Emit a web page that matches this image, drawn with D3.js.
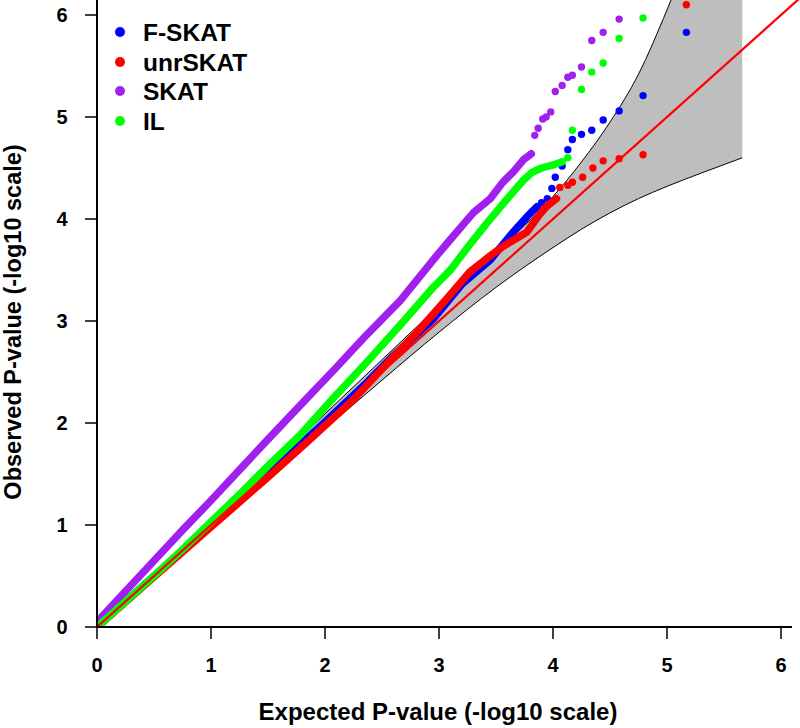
<!DOCTYPE html>
<html>
<head>
<meta charset="utf-8">
<script src="https://cdn.jsdelivr.net/npm/d3@7"></script>
<style>
  body { margin: 0; background: #fff; }
  svg { display: block; font-family: 'Liberation Sans', Arial, sans-serif; font-weight: bold; }
</style>
</head>
<body>
<svg id="qq" width="800" height="728"></svg>
<script>
// tick values
const xTicks = [0, 1, 2, 3, 4, 5, 6];
const yTicks = [0, 1, 2, 3, 4, 5, 6];

// legend
const seriesNames = ['F-SKAT', 'unrSKAT', 'SKAT', 'IL'];
const seriesColors = ['#0000ff', '#ff0000', '#a020f0', '#00ff00'];

// confidence band, [expected] -> lower / upper observed
const bandExp = [0, 0.5, 1, 1.5, 2, 2.5, 3, 3.5, 4, 4.25, 4.5, 4.75, 5, 5.3, 5.66];
const bandLower = [0, 0.48, 0.97, 1.45, 1.94, 2.42, 2.89, 3.33, 3.72, 3.9, 4.06, 4.2, 4.32, 4.45, 4.6];
const bandUpper = [0, 0.52, 1.03, 1.56, 2.09, 2.62, 3.15, 3.68, 4.22, 4.56, 4.95, 5.42, 6.05, 6.9, 7.6];

// dense part of each series [expected, observed]
const fskatTrace = [[0, 0], [0.5, 0.5], [1, 1], [1.5, 1.5], [2, 2.01], [2.37, 2.4], [2.6, 2.66], [2.95, 3.02],
  [3.2, 3.36], [3.45, 3.6], [3.65, 3.87], [3.77, 4.02], [3.86, 4.12]];
const unrTrace = [[0, 0], [0.5, 0.49], [1, 0.98], [1.5, 1.47], [1.87, 1.84], [2.25, 2.23], [2.6, 2.65], [2.8, 2.88],
  [3.07, 3.22], [3.27, 3.48], [3.45, 3.64], [3.56, 3.73], [3.77, 3.87], [3.88, 4.04], [3.94, 4.12], [4.03, 4.2]];
const skatTrace = [[0, 0.05], [0.25, 0.35], [0.5, 0.65], [0.75, 0.95], [1, 1.24], [1.25, 1.54], [1.5, 1.84],
  [1.78, 2.17], [2.07, 2.51], [2.37, 2.87], [2.66, 3.2], [2.95, 3.6], [3.07, 3.76], [3.3, 4.06], [3.45, 4.2],
  [3.56, 4.36], [3.65, 4.46], [3.74, 4.58], [3.81, 4.64]];
const ilTrace = [[0, 0], [0.25, 0.25], [0.5, 0.5], [0.75, 0.76], [1, 1.03], [1.25, 1.3], [1.5, 1.58], [1.78, 1.88],
  [2.07, 2.24], [2.37, 2.6], [2.66, 2.96], [2.95, 3.33], [3.1, 3.5], [3.25, 3.72], [3.42, 3.96], [3.6, 4.2],
  [3.74, 4.38], [3.82, 4.46], [3.9, 4.5], [4, 4.53], [4.08, 4.56]];

// top hits (single points)
const fskatTail = [[3.9, 4.16], [3.95, 4.2], [3.99, 4.3], [4.02, 4.41], [4.08, 4.52], [4.13, 4.68], [4.17, 4.78],
  [4.25, 4.83], [4.34, 4.87], [4.44, 4.97], [4.58, 5.06], [4.79, 5.21], [5.17, 5.83]];
const unrTail = [[4.06, 4.31], [4.13, 4.33], [4.17, 4.36], [4.26, 4.41], [4.35, 4.5], [4.44, 4.57], [4.58, 4.59],
  [4.79, 4.63], [5.17, 6.1]];
const skatTail = [[3.84, 4.82], [3.87, 4.89], [3.91, 4.98], [3.94, 5.0], [3.98, 5.05], [4.02, 5.25], [4.08, 5.31],
  [4.13, 5.39], [4.17, 5.41], [4.25, 5.49], [4.34, 5.75], [4.44, 5.83], [4.58, 5.96]];
const ilTail = [[4.13, 4.6], [4.17, 4.87], [4.25, 5.27], [4.34, 5.44], [4.44, 5.53], [4.58, 5.77], [4.79, 5.97]];

const svg = d3.select('#qq');
const x0 = 97, x1 = 800, y0 = 627, y1 = 0;

const xScale = d3.scaleLinear().domain([0, (x1 - x0) / 114]).range([x0, x1]);
const yScale = d3.scaleLinear().domain([0, (y0 - y1) / 102]).range([y0, y1]);

svg.append('clipPath').attr('id', 'plotclip')
  .append('rect').attr('x', x0).attr('y', y1).attr('width', x1 - x0).attr('height', y0 - y1);

const plot = svg.append('g').attr('clip-path', 'url(#plotclip)');

// gray band
const bandRows = bandExp.map((e, i) => ({ e, lo: bandLower[i], hi: bandUpper[i] }));
plot.append('path')
  .datum(bandRows)
  .attr('fill', '#bebebe')
  .attr('d', d3.area().curve(d3.curveMonotoneX)
    .x((d) => xScale(d.e)).y0((d) => yScale(d.lo)).y1((d) => yScale(d.hi)));

['lo', 'hi'].forEach((k) => {
  plot.append('path')
    .datum(bandRows)
    .attr('fill', 'none')
    .attr('stroke', '#000')
    .attr('stroke-width', 1)
    .attr('d', d3.line().curve(d3.curveMonotoneX).x((d) => xScale(d.e)).y((d) => yScale(d[k])));
});

// series, drawn blue, red, purple, green
const traces = [fskatTrace, unrTrace, skatTrace, ilTrace];
const tails = [fskatTail, unrTail, skatTail, ilTail];

const line = d3.line().x((d) => xScale(d[0])).y((d) => yScale(d[1]));

traces.forEach((tr, i) => {
  plot.append('path')
    .datum(tr)
    .attr('fill', 'none')
    .attr('stroke', seriesColors[i])
    .attr('stroke-width', 7.5)
    .attr('stroke-linecap', 'round')
    .attr('stroke-linejoin', 'round')
    .attr('d', line);

  plot.append('g')
    .selectAll('circle')
    .data(tails[i])
    .enter()
    .append('circle')
    .attr('cx', (d) => xScale(d[0]))
    .attr('cy', (d) => yScale(d[1]))
    .attr('r', 3.7)
    .attr('fill', seriesColors[i]);
});

// y = x reference
plot.append('line')
  .attr('x1', xScale(0)).attr('y1', yScale(0))
  .attr('x2', xScale(7)).attr('y2', yScale(7))
  .attr('stroke', '#ff0000')
  .attr('stroke-width', 2.2);

// axes (plain lines + ticks, like base R)
svg.append('line').attr('x1', x0).attr('x2', x0).attr('y1', 0).attr('y2', y0)
  .attr('stroke', '#000').attr('stroke-width', 2);
svg.append('line').attr('x1', x0).attr('x2', 792).attr('y1', y0).attr('y2', y0)
  .attr('stroke', '#000').attr('stroke-width', 2);

const xAxis = svg.append('g');
xTicks.forEach((t) => {
  xAxis.append('line').attr('x1', xScale(t)).attr('x2', xScale(t)).attr('y1', y0).attr('y2', y0 + 12)
    .attr('stroke', '#000').attr('stroke-width', 1.5);
  xAxis.append('text').attr('x', xScale(t)).attr('y', 665)
    .attr('text-anchor', 'middle').attr('dominant-baseline', 'central')
    .attr('font-size', 20).text(t);
});

const yAxis = svg.append('g');
yTicks.forEach((t) => {
  yAxis.append('line').attr('x1', x0 - 12).attr('x2', x0).attr('y1', yScale(t)).attr('y2', yScale(t))
    .attr('stroke', '#000').attr('stroke-width', 1.5);
  yAxis.append('text').attr('x', 62).attr('y', yScale(t))
    .attr('text-anchor', 'middle').attr('dominant-baseline', 'central')
    .attr('font-size', 20).text(t);
});

svg.append('text')
  .attr('x', 438).attr('y', 720)
  .attr('text-anchor', 'middle')
  .attr('font-size', 24)
  .text('Expected P-value (-log10 scale)');

svg.append('text')
  .attr('transform', 'rotate(-90)')
  .attr('x', -322).attr('y', 21)
  .attr('text-anchor', 'middle')
  .attr('font-size', 23.5)
  .text('Observed P-value (-log10 scale)');

// legend
const legend = svg.append('g');
const legendY = [32, 62, 91, 121];
seriesNames.forEach((name, i) => {
  legend.append('circle').attr('cx', 120).attr('cy', legendY[i]).attr('r', 5).attr('fill', seriesColors[i]);
  legend.append('text').attr('x', 143).attr('y', legendY[i])
    .attr('dominant-baseline', 'central')
    .attr('font-size', 24.5)
    .text(name);
});
</script>
</body>
</html>
